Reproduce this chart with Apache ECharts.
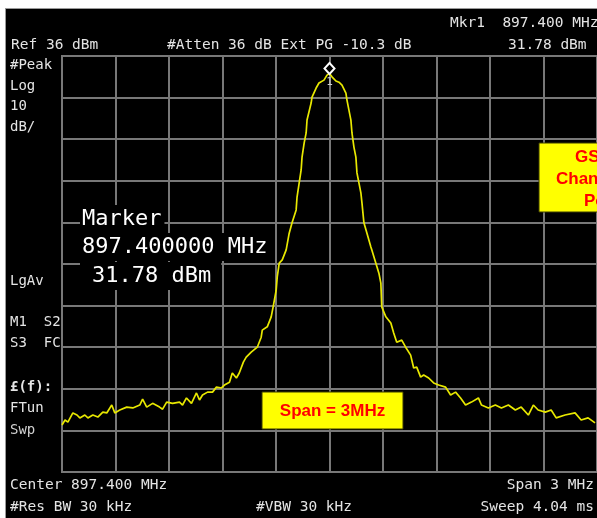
<!DOCTYPE html>
<html><head><meta charset="utf-8">
<script src="https://cdn.jsdelivr.net/npm/echarts@6/dist/echarts.min.js"></script>
<style>html,body{margin:0;padding:0;background:#fff;overflow:hidden}#c{width:597px;height:518px}</style>
</head><body><div id="c"></div>
<script>
// ---- data (offset from 897.400 MHz centre, in kHz; level in dBm) ----
const freqOffsetKHz = [-1500,-1483,-1467,-1439,-1416,-1400,-1372,-1355,-1327,-1299,-1271,-1249,-1221,-1204,-1176,-1137,-1103,-1064,-1048,-1025,-992,-953,-936,-913,-880,-841,-824,-802,-774,-746,-729,-712,-684,-656,-634,-606,-589,-561,-545,-522,-506,-483,-467,-439,-405,-383,-377,-349,-327,-316,-299,-293,-282,-265,-243,-226,-210,-187,-182,-170,-159,-154,-142,-131,-126,-103,-98,-75,-59,-31,-14,0,
14,36,53,70,92,98,109,120,126,137,148,154,165,176,182,193,210,232,237,260,277,288,293,316,344,360,377,405,427,455,472,489,511,528,556,584,612,651,679,707,735,763,796,835,852,891,930,964,1003,1042,1075,1115,1143,1170,1210,1243,1271,1321,1377,1411,1450,1489];
const levelDbm = [-52.7,-51.5,-52.0,-49.8,-50.3,-51.0,-50.3,-51.0,-50.3,-50.8,-49.6,-49.8,-47.9,-49.8,-49.1,-48.4,-48.6,-47.9,-46.5,-48.4,-47.5,-48.4,-48.9,-47.2,-47.5,-47.2,-47.9,-46.2,-47.5,-45.0,-46.7,-45.5,-44.8,-44.8,-43.6,-43.8,-43.1,-42.4,-40.2,-41.4,-40.2,-37.6,-36.4,-35.2,-34.0,-31.6,-29.9,-29.1,-26.7,-24.3,-20.3,-17.1,-13.8,-13.0,-10.6,-6.6,-4.1,-1.0,2.1,5.5,8.6,11.7,15.1,17.5,20.6,24.7,26.1,28.3,29.5,30.2,31.4,31.78,
31.0,30.0,29.7,29.0,27.1,25.4,23.0,20.6,17.5,14.1,11.7,7.9,5.5,3.1,0.7,-4.1,-6.6,-9.9,-10.6,-13.8,-16.2,-18.6,-24.3,-26.7,-28.2,-30.6,-32.8,-32.3,-34.0,-35.9,-39.0,-38.8,-41.2,-40.7,-41.4,-42.6,-43.1,-43.6,-45.5,-44.8,-46.2,-47.9,-47.2,-46.2,-47.9,-48.6,-47.9,-48.6,-47.9,-49.1,-48.4,-50.3,-47.9,-49.1,-49.6,-49.1,-51.0,-50.3,-49.8,-51.5,-51.0,-52.2];
const refLevelDbm = 36;
const dbPerDiv = 10;
const divisions = 10;
const spanKHz = 3000;
const markerOffsetKHz = 0;
const markerDbm = 31.78;

// ---- text ----
const headerTexts = ['Mkr1  897.400 MHz', 'Ref 36 dBm', '#Atten 36 dB Ext PG -10.3 dB', '31.78 dBm'];
const sideTexts = ['#Peak', 'Log', '10', 'dB/', 'LgAv', 'M1  S2', 'S3  FC', '£(f):', 'FTun', 'Swp'];
const footerTexts = ['Center 897.400 MHz', 'Span 3 MHz', '#Res BW 30 kHz', '#VBW 30 kHz', 'Sweep 4.04 ms'];
const markerTexts = ['Marker', '897.400000 MHz', '31.78 dBm'];
const noteSpan = 'Span = 3MHz';
const noteGsm = ['GSM', 'Channel', 'Power'];

const chart = echarts.init(document.getElementById('c'), null, {renderer: 'canvas'});
const MONO = '"DejaVu Sans Mono", "Liberation Mono", monospace';
const gridLine = {show: true, lineStyle: {color: '#787878', width: 2}};
const hide = {axisLine: {show: false}, axisTick: {show: false}, axisLabel: {show: false}};

function t(text, x, y, extra) {
  return {
    type: 'text', z: 100, x: x, y: y,
    style: Object.assign({
      text: text, fill: '#e4e4e4', font: '14.5px ' + MONO,
      textAlign: 'left', align: 'left', textVerticalAlign: 'middle', verticalAlign: 'middle'
    }, extra || {})
  };
}
const R = {textAlign: 'right', align: 'right'};
const side = {font: '14px ' + MONO};
const big = {font: '22px ' + MONO, fill: '#ffffff', backgroundColor: '#000'};
const redBold = {font: 'bold 17px "Liberation Sans", Arial, sans-serif', fill: '#ff0000'};

const graphics = [
  {type: 'rect', z: 100, shape: {x: 0, y: 0, width: 597, height: 8}, style: {fill: '#ffffff'}},
  {type: 'rect', z: 100, shape: {x: 0, y: 0, width: 5, height: 518}, style: {fill: '#ffffff'}},
  {type: 'line', z: 100, shape: {x1: 5, y1: 8.5, x2: 597, y2: 8.5}, style: {stroke: '#9a9a9a', lineWidth: 1}},
  {type: 'line', z: 100, shape: {x1: 5.5, y1: 8, x2: 5.5, y2: 518}, style: {stroke: '#9a9a9a', lineWidth: 1}},
  t(headerTexts[0], 450, 23),
  t(headerTexts[1], 11, 45),
  t(headerTexts[2], 167, 45),
  t(headerTexts[3], 508, 45),
  t(sideTexts[0], 10, 65, side), t(sideTexts[1], 10, 86, side), t(sideTexts[2], 10, 106, side), t(sideTexts[3], 10, 127, side),
  t(sideTexts[4], 10, 281, side),
  t(sideTexts[5], 10, 322, side), t(sideTexts[6], 10, 343, side),
  t(sideTexts[7], 10, 387, {font: 'bold 14px ' + MONO}), t(sideTexts[8], 10, 408, side), t(sideTexts[9], 10, 430, Object.assign({fill: '#d0d0d0'}, side)),
  t(footerTexts[0], 10, 485), t(footerTexts[1], 594, 485, R),
  t(footerTexts[2], 10, 507), t(footerTexts[3], 256, 507), t(footerTexts[4], 594, 507, R),
  t(markerTexts[0], 80, 219, Object.assign({}, big, {padding: [3, 3, 3, 2]})),
  t(markerTexts[1], 80, 247, Object.assign({}, big, {padding: [3, 4, 3, 2]})),
  t(markerTexts[2], 80, 276, Object.assign({}, big, {padding: [3, 10, 3, 12]})),
  {type: 'rect', z: 100, shape: {x: 262, y: 392, width: 141, height: 37}, style: {fill: '#ffff00', stroke: '#3a3a00', lineWidth: 1}},
  t(noteSpan, 332.5, 411, Object.assign({}, redBold, {textAlign: 'center', align: 'center'})),
  {type: 'rect', z: 100, shape: {x: 539, y: 143, width: 120, height: 69}, style: {fill: '#ffff00', stroke: '#3a3a00', lineWidth: 1}},
  t(noteGsm[0], 575, 157, redBold),
  t(noteGsm[1], 556, 179, redBold),
  t(noteGsm[2], 584, 201, redBold)
];

chart.setOption({
  animation: false,
  backgroundColor: '#000000',
  grid: {left: 62, top: 56, width: 537, height: 416, show: true, borderColor: '#787878', borderWidth: 2, backgroundColor: '#000'},
  xAxis: [Object.assign({type: 'value', min: -spanKHz / 2, max: spanKHz / 2, interval: spanKHz / divisions, splitLine: gridLine}, hide)],
  yAxis: [
    Object.assign({type: 'value', min: refLevelDbm - dbPerDiv * divisions, max: refLevelDbm, splitLine: {show: false}}, hide),
    Object.assign({type: 'value', min: 0, max: divisions, interval: 1, position: 'left', splitLine: gridLine}, hide)
  ],
  series: [{
    type: 'line', xAxisIndex: 0, yAxisIndex: 0,
    data: freqOffsetKHz.map((f, i) => [f, levelDbm[i]]),
    symbol: 'none', showSymbol: false,
    lineStyle: {color: '#e8e800', width: 1.7},
    markPoint: {
      symbol: 'diamond', symbolSize: [10, 11], symbolOffset: [0, -5],
      itemStyle: {color: '#000', borderColor: '#ffffff', borderWidth: 2},
      label: {show: true, formatter: '1', position: 'bottom', distance: 2, color: '#cfcfcf', fontSize: 11, fontFamily: 'DejaVu Sans Mono'},
      data: [{coord: [markerOffsetKHz, markerDbm]}]
    }
  }],
  graphic: graphics
});
</script>
</body></html>
